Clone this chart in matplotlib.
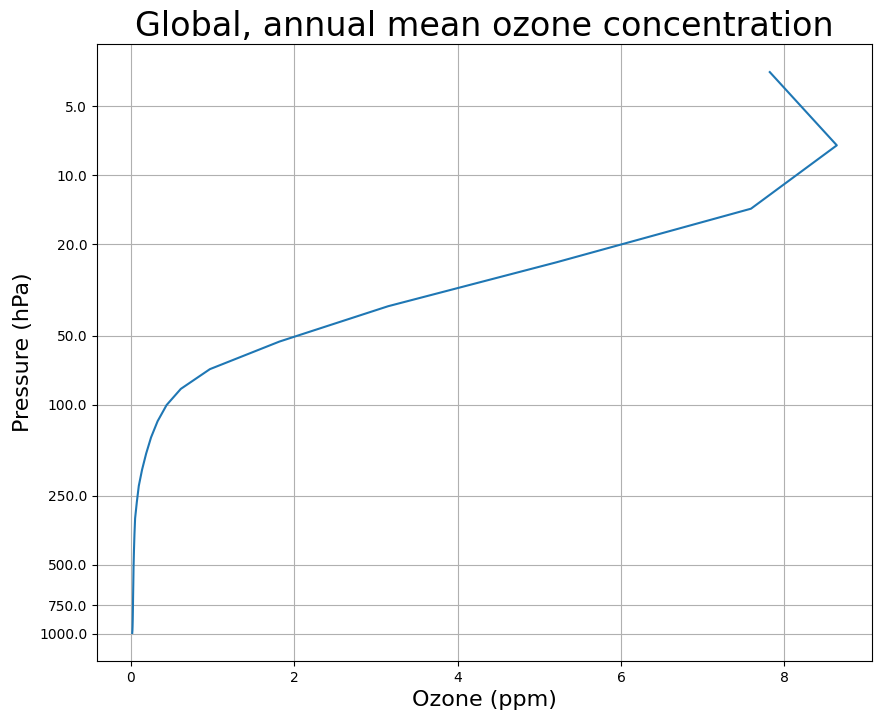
import numpy as np
import matplotlib.pyplot as plt

# CAM3 26-level pressure grid (hPa) and global annual mean ozone (ppm)
lev = [3.54, 7.39, 13.97, 23.94, 37.23, 53.11, 70.06, 85.44, 100.51, 118.25,
       139.12, 163.66, 192.54, 226.51, 266.48, 313.50, 368.82, 433.90, 510.46,
       600.52, 696.80, 787.70, 867.16, 929.65, 970.55, 992.56]
ozone = [7.82, 8.64, 7.59, 5.21, 3.15, 1.82, 0.97, 0.614, 0.44, 0.33,
         0.25, 0.19, 0.14, 0.10, 0.076, 0.055, 0.047, 0.041, 0.036, 0.033,
         0.030, 0.028, 0.026, 0.024, 0.022, 0.020]

yticks = [5., 10., 20., 50., 100., 250., 500., 750., 1000.]

fig = plt.figure(figsize=(8.82, 7.22), dpi=100)
ax = fig.add_axes([0.11, 0.0845, 0.8787, 0.8545])
ax.plot(ozone, lev)
ax.set_yscale('log')
ax.invert_yaxis()
ax.set_yticks(yticks)
ax.set_yticklabels([str(t) for t in yticks])
ax.minorticks_off()
ax.set_xlabel('Ozone (ppm)', fontsize=16)
ax.set_ylabel('Pressure (hPa)', fontsize=16)
ax.set_title('Global, annual mean ozone concentration', fontsize=24)
ax.grid(True)
fig.savefig('out.png', dpi=100)
